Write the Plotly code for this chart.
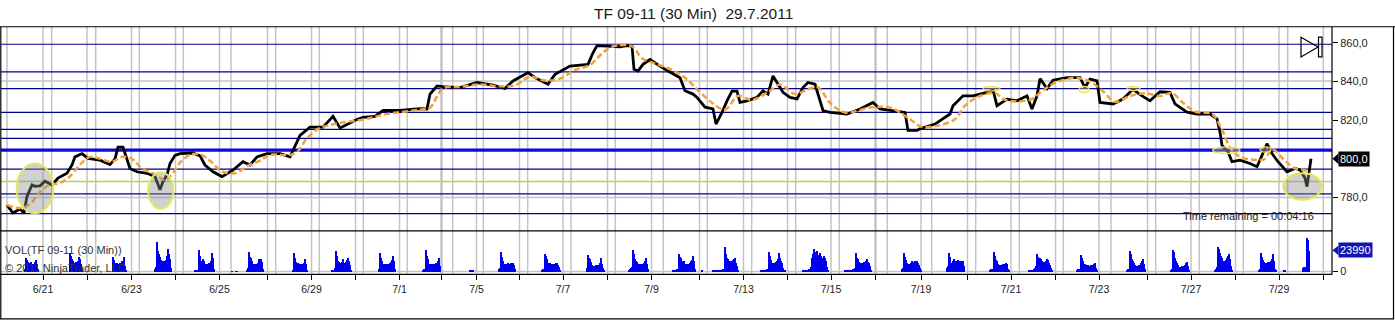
import plotly.graph_objects as go

W, H = 1395, 323
FONT = "Liberation Sans, Arial, sans-serif"

# ---------------- data ----------------
# bar index of each session end (x-axis ticks) and session start
session_end = [43, 87, 131.5, 175.5, 219.5, 267.5, 311.5, 355.5, 399.5, 441.5,
               476.5, 519.5, 563, 607.5, 651.5, 699.5, 743.5, 787.5, 831, 875.5,
               921, 967.5, 1011, 1055.5, 1099, 1147.5, 1191, 1235.5, 1279, 1323.3]
session_start = [7, 51.7, 95.7, 139.3, 183.3, 231, 275.7, 319.3, 363.3, 407.3,
                 452.7, 483.3, 527.7, 571, 615.3, 663.3, 707.3, 751.7, 795.7, 839.3,
                 887.3, 931.7, 975.7, 1019.3, 1063.3, 1111, 1155.7, 1199.3, 1243.3, 1287.7]
heavy_breaks = [441.5, 875.5]
date_labels = ["6/21", "", "6/23", "", "6/25", "", "6/29", "", "7/1", "",
               "7/5", "", "7/7", "", "7/9", "", "7/13", "", "7/15", "",
               "7/19", "", "7/21", "", "7/23", "", "7/27", "", "7/29", ""]

price_bar = [7, 13, 20, 24, 27, 32, 35, 40, 45, 52, 58, 67, 72, 75, 82, 88, 100, 110, 115, 118,
             123, 127, 130, 137, 147, 155, 160, 163, 167, 170, 175, 180, 193, 200, 205, 213, 222, 233, 243, 250,
             257, 267, 280, 290, 295, 300, 310, 323, 333, 340, 348, 355, 363, 375, 383, 400, 420, 427, 430, 437,
             443, 460, 477, 493, 505, 513, 528, 535, 548, 555, 570, 588, 593, 597, 607, 620, 627, 632, 634, 638,
             643, 650, 660, 668, 680, 685, 693, 697, 705, 713, 716, 722, 727, 732, 737, 740, 747, 757, 763, 768,
             773, 777, 783, 790, 797, 803, 808, 815, 820, 823, 830, 847, 860, 873, 880, 893, 905, 908, 917, 920,
             935, 950, 953, 963, 973, 987,
             993, 997, 1007, 1017, 1027, 1032, 1037, 1040, 1047, 1053, 1067, 1080, 1085, 1090, 1097, 1100, 1113, 1123, 1133, 1142,
             1150, 1160, 1170, 1175, 1180, 1187, 1197, 1210, 1217, 1220, 1222, 1228, 1232, 1240, 1250, 1257, 1262, 1267, 1272, 1278,
             1287, 1295, 1300, 1305, 1307, 1308, 1311]
price_close = [776, 772, 774, 772, 780.5, 786.5, 785.8, 786, 788.4, 786.5, 790, 792.5, 796.8, 801, 802.7, 800.2, 799.3, 797, 800, 806,
               806, 800, 795, 793.3, 792.5, 790.8, 784, 788.2, 791.6, 797.6, 801.8, 802.7, 803, 801.5, 796.8, 793.3, 790.8, 794.2, 798.5, 796.8,
               801, 802.7, 802.7, 801, 807, 812.1, 816.4, 816.4, 822, 816, 818, 820, 821.5, 822, 825, 825, 826, 825.8, 833.5, 837.7,
               837.4, 836.9, 839.5, 838.1, 836.4, 840.3, 844.6, 842, 838.6, 843.7, 848, 848.9, 854.9, 858.6, 858.3, 858, 858.6, 858.3, 846.3, 845.4,
               848.9, 851.4, 848, 845.4, 842, 835.2, 833.5, 831.8, 826.7, 825.8, 818, 824, 830, 835, 835, 829.2, 830, 831.8, 835.2, 833.5,
               842.9, 839.5, 834.4, 831.8, 831, 836.9, 839.5, 838.6, 830, 825, 824, 823.2, 825.8, 829.2, 825.8, 825, 824, 814.7, 814.7, 815.6,
               818, 823.2, 827.5, 832.6, 832.6, 834.4,
               835.7, 827.5, 830.9, 830, 832.6, 825.8, 832.6, 841.5, 836.4, 840.7, 842, 842, 836.9, 841.2, 840.3, 829.2, 828.4, 830.9, 836, 832.6,
               830, 834.7, 834.4, 828.4, 826.7, 824.1, 823.2, 823.2, 820.7, 813.8, 807, 803.6, 798.5, 799.3, 797.6, 795.9, 801.8, 807.8, 802.7, 798.5,
               793.3, 795, 794.2, 790, 785.6, 789, 800]

ma_bar = [7, 20, 30, 40, 50, 60, 70, 80, 90, 100, 112, 122, 132, 142, 155, 165, 172, 180, 190, 200,
          210, 222, 235, 248, 260, 270, 290, 298, 306, 318, 330, 345, 365, 385, 420, 430, 443, 460, 480, 500,
          515, 530, 545, 560, 575, 590, 600, 612, 632, 642, 655, 670, 685, 698, 712, 725, 738, 752, 768, 780,
          795, 808, 818, 830, 845, 870, 890, 910, 922, 940, 955, 965, 980, 995, 1005, 1030, 1042, 1055, 1075, 1090,
          1103, 1115, 1130, 1145, 1160, 1172, 1183, 1195, 1212, 1222, 1230, 1240, 1255, 1265, 1272, 1285, 1295, 1305, 1310]
ma_val = [776, 774.5, 776.5, 783, 786.5, 787.5, 791, 797, 801, 800, 798.5, 801, 800, 795, 792, 789, 792, 798, 802, 802.3,
          799, 793.5, 792.5, 796.5, 799, 802, 802, 804, 810, 815.5, 817.5, 819, 820.5, 823, 825.5, 826.5, 836.5, 837.2, 838.5, 837.5,
          838, 842.5, 840.5, 841.5, 846, 848.5, 853.5, 858, 858.2, 852, 849.3, 846.5, 842, 835.5, 829, 825.5, 832.5, 830.5, 834.5, 838.5,
          833.5, 836, 837, 829, 824, 826.5, 826.5, 820.5, 816.5, 817.5, 820.5, 827.5, 832.5, 834, 830.5, 830.5, 835, 839.3, 841.8, 840,
          835, 829.5, 832.5, 834, 832.5, 834, 829, 824.5, 823.2, 815, 806, 801, 799.5, 800, 805, 799, 795, 794, 793]

# regular-session volume per day: first bar index and per-bar volumes
vol_start = [25, 70, 113, 155, 195, 232, 247, 293, 332, 379, 423, 470, 499, 542, 587, 629, 673, 702, 713, 761,
             803, 845, 902, 947, 990, 1029, 1077, 1127, 1171, 1215, 1259, 1284, 1303]
vol_profile = [
    [3000, 15000, 13500, 11000, 10000, 9000, 10500, 8500, 8000, 9000, 11000, 12700, 9000, 3000],
    [21400, 18000, 14000, 12000, 10000, 9500, 11000, 10000, 12500, 16500, 14000, 9000, 3000],
    [16500, 13000, 10000, 9000, 10000, 9000, 8500, 9500, 10000, 12000, 11000, 16500, 6000, 2000],
    [3000, 5000, 33800, 24000, 19500, 17000, 13000, 12000, 11000, 12500, 11500, 13000, 18000, 26000, 20000, 14000, 4000],
    [1000, 1200, 1000, 1500, 25000, 18000, 12000, 11000, 14000, 12000, 9000, 8500, 9000, 8000, 9500, 10000, 12000, 21400, 15000, 3000],
    [700, 0, 0, 0, 600, 700],
    [2000, 4000, 22500, 17000, 15800, 12000, 9000, 8300, 8000, 9000, 8500, 10000, 14000, 10000, 14000, 11000, 3000],
    [2000, 21400, 16000, 11000, 9000, 9500, 8300, 8000, 9000, 8500, 9000, 10000, 14600, 9000, 2000],
    [1000, 1500, 2000, 4000, 24000, 18000, 12000, 11000, 10000, 9000, 11000, 14000, 10000, 9500, 11000, 13000, 15800, 12000, 8000, 2000],
    [3000, 21400, 16000, 12000, 9000, 8300, 8000, 8500, 8000, 9000, 8500, 9500, 11000, 13000, 17600, 12000, 3000],
    [2000, 3000, 3500, 25000, 18000, 14000, 9000, 8300, 8000, 8500, 8300, 9000, 8000, 9500, 10000, 12000, 15800, 6000],
    [1000, 800, 0, 900],
    [3000, 4000, 22000, 17000, 12000, 9000, 8300, 7500, 8300, 10000, 9000, 8000, 10000, 10000, 9500, 8000, 3000],
    [2000, 2500, 3000, 19500, 18000, 14000, 10000, 9500, 10000, 8300, 8500, 8000, 9000, 8300, 10000, 10000, 7000, 5000, 1500],
    [4000, 18400, 15000, 14000, 11000, 8000, 6400, 6000, 6400, 7000, 6500, 7000, 8000, 10000, 15000, 9000, 4000, 1500],
    [2000, 3000, 4000, 5000, 25000, 20000, 14000, 12000, 11000, 9000, 8300, 8000, 9000, 8300, 8500, 10000, 12000, 15000, 9000, 2500],
    [1000, 1200, 1500, 2000, 2500, 3000, 20000, 17000, 16000, 12000, 11000, 12000, 9000, 8300, 8000, 8500, 9000, 10000, 12000, 13000, 17600, 12000, 3000],
    [1500],
    [1200, 1200, 1200, 1300, 1300, 1300, 1500, 1500, 1800, 2000, 2500, 3000, 28000, 20000, 16000, 14000, 12000, 12500, 10000, 12000, 13000, 14000, 15800, 10000, 6000, 2000],
    [800, 1000, 1000, 1200, 1500, 2000, 2500, 3500, 22500, 18000, 13000, 10000, 9500, 10000, 9000, 11000, 12000, 14000, 21400, 16000, 12000, 10000, 4000, 2000, 1000],
    [1000, 1000, 1200, 1500, 1500, 2000, 2500, 3500, 5000, 15000, 20000, 26000, 22000, 16000, 23000, 19000, 15000, 21000, 18000, 14000, 16000, 17600, 15000, 12000, 5000, 2000],
    [1000, 0, 1000, 0, 1200, 1500, 1500, 2000, 2500, 3000, 4000, 21400, 16000, 14000, 11000, 10000, 9500, 10000, 9000, 11000, 10000, 12000, 14000, 11000, 10000, 6000, 2000],
    [3000, 4000, 21400, 17000, 13000, 10000, 8300, 8000, 9000, 10000, 12000, 11000, 10000, 12000, 11000, 12000, 10000, 8000, 4000, 2000],
    [4000, 6000, 21400, 17000, 9000, 10000, 12000, 14000, 12000, 11000, 12000, 13000, 12000, 12500, 11000, 12000, 12000, 6000],
    [2000, 2500, 3000, 3500, 22500, 18000, 13000, 12000, 9000, 7000, 6400, 7000, 8000, 9000, 8500, 9000, 10000, 9000, 3000, 1500],
    [1000, 1200, 1200, 1300, 1500, 2500, 4000, 6000, 20000, 17000, 14000, 16000, 14000, 12000, 10000, 11000, 10000, 12000, 14000, 12700, 10000, 8000, 4000, 2000],
    [2000, 2500, 3000, 3500, 18400, 15000, 12000, 9000, 8300, 7000, 6500, 7000, 6000, 6500, 7000, 7500, 8000, 9000, 9500, 4000, 2000],
    [2000, 3000, 3500, 24000, 20000, 14000, 12000, 10000, 8000, 6400, 6000, 6500, 7000, 8000, 10000, 12000, 14000, 9000, 2500],
    [2000, 3000, 25000, 22000, 16000, 12000, 10000, 7000, 5300, 5000, 5500, 6000, 5500, 6000, 7000, 10000, 10500, 6000, 2000],
    [2000, 3000, 5000, 28000, 26000, 21400, 18000, 15000, 12000, 11000, 12000, 13000, 15000, 18000, 20600, 14000, 6000, 2000],
    [2000, 3000, 21400, 17000, 13000, 11000, 10000, 9500, 10000, 11000, 10000, 10500, 12000, 14000, 19500, 12000, 3000, 1500],
    [1500, 1500],
    [4500, 5000, 5200, 5500, 38000, 36000, 23990],
]

level_lines = [859.3, 845.0, 836.3, 824.0, 815.2, 810.6, 794.7, 781.9, 771.6]
strong_level = 804.5
green_level = 788.2
grey_levels = [840.3, 780.0]
price_ticks = [780, 820, 840, 860]
last_price = 800.0
last_volume = 23990

# highlight zones: (bar0, bar1, price_low, price_high)
big_zones = [(16.7, 53.3, 771.9, 797.6), (148.3, 173.3, 774.2, 793.0), (1283.3, 1321.7, 778.8, 792.5)]
small_zones = [(983, 1000, 835.1, 837.4), (1079, 1089, 834.3, 837.5), (1127, 1140, 835.3, 837.5),
               (1212.7, 1240, 802.7, 806.2), (1260, 1271, 803.5, 806.2)]

# ---------------- figure ----------------
def fx(p):
    return p / W


def fy(p):
    return 1 - p / H


vol_x, vol_y = [], []
for s, prof in zip(vol_start, vol_profile):
    for i, v in enumerate(prof):
        vol_x.append(s + i)
        vol_y.append(v)

fig = go.Figure()
fig.add_trace(go.Bar(x=vol_x, y=vol_y, xaxis="x", yaxis="y2", width=1.0,
                     marker=dict(color="#0000F0", line=dict(width=0)),
                     showlegend=False, hoverinfo="skip"))
fig.add_trace(go.Scatter(x=price_bar, y=price_close, mode="lines", xaxis="x", yaxis="y",
                         line=dict(color="#000000", width=2.8), showlegend=False))
fig.add_trace(go.Scatter(x=ma_bar, y=ma_val, mode="lines", xaxis="x", yaxis="y",
                         line=dict(color="#F2A23A", width=2.5, dash="6px,3px", shape="spline"),
                         showlegend=False))

shapes = []
for xs in session_end + session_start:
    shapes.append(dict(type="line", xref="x", yref="paper", x0=xs, x1=xs,
                       y0=fy(277), y1=fy(27), layer="below",
                       line=dict(color="#C4C4C4", width=2.5 if xs in heavy_breaks else 1.5)))
for lv in grey_levels:
    shapes.append(dict(type="line", xref="x domain", yref="y", x0=0, x1=1, y0=lv, y1=lv,
                       layer="below", line=dict(color="#C4C4C4", width=1.5)))
shapes.append(dict(type="line", xref="x domain", yref="y2", x0=0, x1=1, y0=0, y1=0,
                   layer="below", line=dict(color="#C4C4C4", width=1.5)))
for lv in level_lines:
    shapes.append(dict(type="line", xref="x domain", yref="y", x0=0, x1=1, y0=lv, y1=lv,
                       layer="below", line=dict(color="#000090", width=1.2)))
shapes.append(dict(type="line", xref="x domain", yref="y", x0=0, x1=1, y0=green_level, y1=green_level,
                   layer="below", line=dict(color="#A9DC4A", width=1.5)))
shapes.append(dict(type="line", xref="x domain", yref="y", x0=0, x1=1, y0=strong_level, y1=strong_level,
                   layer="below", line=dict(color="#0A0AE0", width=3.2)))

for b0, b1, p0, p1 in big_zones:
    shapes.append(dict(type="circle", xref="x", yref="y", x0=b0, x1=b1, y0=p0, y1=p1,
                       fillcolor="rgba(140,140,140,0.40)", line=dict(color="#E6E65A", width=2)))
for b0, b1, p0, p1 in small_zones:
    shapes.append(dict(type="circle", xref="x", yref="y", x0=b0, x1=b1, y0=p0, y1=p1,
                       fillcolor="rgba(255,240,120,0.35)", line=dict(color="#F0E060", width=1.2)))

# frame
frame = dict(color="#000000", width=1.2)
shapes += [
    dict(type="line", xref="paper", yref="paper", x0=0, x1=1, y0=fy(27), y1=fy(27), line=frame),
    dict(type="line", xref="paper", yref="paper", x0=fx(0.8), x1=fx(0.8), y0=fy(27), y1=fy(322), line=frame),
    dict(type="line", xref="paper", yref="paper", x0=fx(1393.5), x1=fx(1393.5), y0=fy(27), y1=fy(322), line=frame),
    dict(type="line", xref="paper", yref="paper", x0=0, x1=fx(1394), y0=fy(321.8), y1=fy(321.8), line=frame),
    dict(type="line", xref="paper", yref="paper", x0=0, x1=fx(1332), y0=fy(233), y1=fy(233), line=frame),
    dict(type="line", xref="paper", yref="paper", x0=0, x1=fx(1332), y0=fy(277), y1=fy(277), line=frame),
    dict(type="line", xref="paper", yref="paper", x0=fx(1332), x1=fx(1332), y0=fy(27), y1=fy(277), line=frame),
]
# end-of-chart icon
shapes.append(dict(type="path", xref="paper", yref="paper",
                   path=f"M {fx(1301)},{fy(37.5)} L {fx(1318)},{fy(47.5)} L {fx(1301)},{fy(57.5)} Z",
                   line=dict(color="#000000", width=1.2)))
shapes.append(dict(type="rect", xref="paper", yref="paper", x0=fx(1318.5), x1=fx(1322), y0=fy(57.5), y1=fy(37.5),
                   line=dict(color="#000000", width=1.2)))

# price / volume marker tips
y_last_px = 43.3 + (860 - last_price) * 1.95
y_vol_px = 274 - last_volume / 1126.3
shapes.append(dict(type="path", xref="paper", yref="paper",
                   path=f"M {fx(1332.5)},{fy(y_last_px)} L {fx(1338.5)},{fy(y_last_px - 5.5)} L {fx(1338.5)},{fy(y_last_px + 5.5)} Z",
                   fillcolor="#000000", line=dict(width=0)))
shapes.append(dict(type="path", xref="paper", yref="paper",
                   path=f"M {fx(1332.5)},{fy(y_vol_px)} L {fx(1338.5)},{fy(y_vol_px - 5)} L {fx(1338.5)},{fy(y_vol_px + 5)} Z",
                   fillcolor="#1414B0", line=dict(width=0)))

annotations = [
    dict(text="TF 09-11 (30 Min)\u00a0 29.7.2011", xref="paper", yref="paper", x=fx(693), y=fy(14),
         xanchor="center", yanchor="middle", showarrow=False, font=dict(family=FONT, size=15.5, color="#1a1a1a")),
    dict(text="VOL(TF 09-11 (30 Min))", xref="paper", yref="paper", x=fx(3), y=fy(252), xanchor="left",
         yanchor="middle", showarrow=False, font=dict(family=FONT, size=11, color="#333333")),
    dict(text="© 2011 NinjaTrader, LLC", xref="paper", yref="paper", x=fx(3), y=fy(271), xanchor="left",
         yanchor="middle", showarrow=False, font=dict(family=FONT, size=11, color="#333333")),
    dict(text="Time remaining = 00:04:16", xref="paper", yref="paper", x=fx(1316), y=fy(218.5), xanchor="right",
         yanchor="middle", showarrow=False, font=dict(family=FONT, size=11, color="#222222")),
    dict(text=f"{last_price:.1f}".replace(".", ","), xref="paper", yref="y", x=fx(1338), y=last_price,
         xanchor="left", yanchor="middle", showarrow=False, bgcolor="#000000", borderpad=1,
         font=dict(family=FONT, size=11, color="#ffffff")),
    dict(text=str(last_volume), xref="paper", yref="y2", x=fx(1338), y=last_volume,
         xanchor="left", yanchor="middle", showarrow=False, bgcolor="#1414B0", borderpad=1,
         font=dict(family=FONT, size=11, color="#ffffff")),
]

p_lo = 860 - (233 - 43.3) / 1.95
p_hi = 860 + (43.3 - 27) / 1.95
v_lo = -(277 - 274) * 1126.3
v_hi = (274 - 233) * 1126.3

fig.update_layout(
    width=W, height=H, margin=dict(l=0, r=0, t=0, b=0),
    paper_bgcolor="#ffffff", plot_bgcolor="#ffffff",
    separators=",.", bargap=0, showlegend=False,
    font=dict(family=FONT, size=11, color="#222222"),
    xaxis=dict(domain=[fx(1), fx(1332)], range=[1, 1332], anchor="y2",
               tickmode="array", tickvals=session_end, ticktext=date_labels,
               ticks="outside", ticklen=5, tickcolor="#000000", tickwidth=1.2,
               showgrid=False, zeroline=False, showline=False,
               tickfont=dict(family=FONT, size=10.5, color="#222222")),
    yaxis=dict(domain=[fy(233), fy(27)], range=[p_lo, p_hi], anchor="x", side="right",
               tickmode="array", tickvals=price_ticks, tickformat=".1f",
               ticks="outside", ticklen=5, tickcolor="#000000",
               showgrid=False, zeroline=False, showline=False,
               tickfont=dict(family=FONT, size=11, color="#222222")),
    yaxis2=dict(domain=[fy(277), fy(233)], range=[v_lo, v_hi], anchor="x", side="right",
                tickmode="array", tickvals=[0], ticktext=["0"],
                ticks="outside", ticklen=5, tickcolor="#000000",
                showgrid=False, zeroline=False, showline=False,
                tickfont=dict(family=FONT, size=11, color="#222222")),
    shapes=shapes, annotations=annotations,
)

fig.write_html("out.html")
